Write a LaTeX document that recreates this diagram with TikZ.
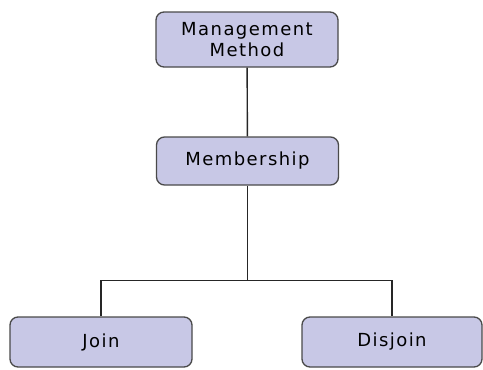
\documentclass[tikz,border=0pt]{standalone}
\usepackage{fontspec}
\setmainfont{DejaVu Sans}[LetterSpace=8]
\usepackage{tikz}
\usetikzlibrary{positioning,calc}

\definecolor{boxfill}{HTML}{C8C8E6}
\definecolor{boxline}{HTML}{4A4A4A}

\begin{document}
\begin{tikzpicture}[
            x=1pt, y=1pt,
            membox/.style={draw=boxline, fill=boxfill, rectangle, rounded corners=8pt, line width=1.3pt, minimum width=182pt, minimum height=50pt, font=\fontsize{18}{21}\selectfont, align=center, inner sep=0pt},
            link/.style={draw=black!85, line width=1.4pt}
        ]
            \useasboundingbox (0,0) rectangle (483,-370);
            \node[membox, minimum height=55pt] (mm) at (247,-39.5) {Management\\Method};
            \node[membox, minimum height=48pt] (ms) at (247.5,-161) {Membership};
            \node[membox] (jn) at (101,-342) {Join};
            \node[membox, minimum width=180pt] (dj) at (392,-342) {Disjoin};
            \coordinate (split) at ($(ms.south)+(0,-95)$);
            
            \draw[link] (mm) -- (ms);
            \draw[link] (ms) -- (split);
            \draw[link] (jn.north) |- (split) -| (dj.north);
        \end{tikzpicture}
\end{document}
